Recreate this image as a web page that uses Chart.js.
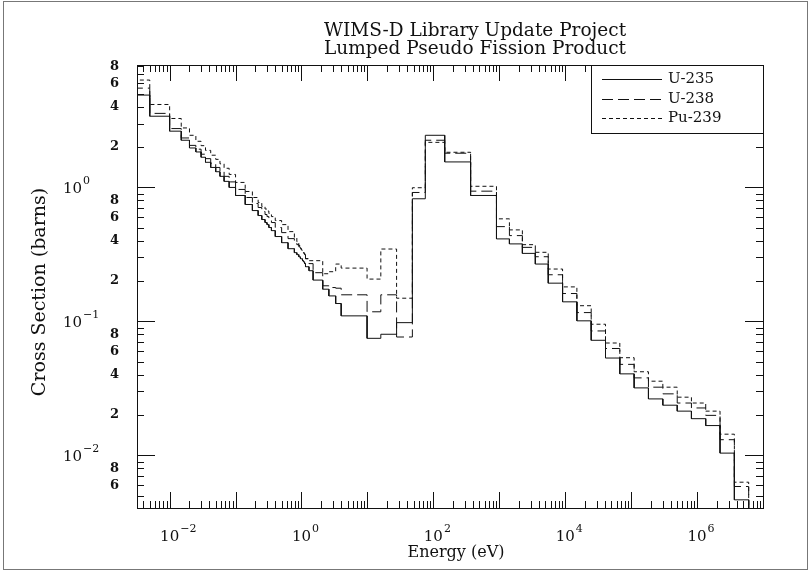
<!DOCTYPE html>
<html lang="en">
<head>
  <meta charset="UTF-8">
  <title>WIMS-D Lumped Pseudo Fission Product</title>
  <script src="https://cdn.jsdelivr.net/npm/chart.js"></script>
  <style>
    body { margin: 0; background: #fff; }
    #wrap { width: 811px; height: 572px; }
  </style>
</head>
<body>
  <div id="wrap"><canvas id="xs" width="811" height="572"></canvas></div>
  <script>
    // WIMS 69-group energy boundaries (eV), group 1 upper .. group 69 lower
    const energyBounds = [
      1.0e7, 6.0655e6, 3.679e6, 2.231e6, 1.353e6, 8.21e5, 5.0e5, 3.025e5, 1.83e5, 1.11e5,
      6.734e4, 4.085e4, 2.478e4, 1.503e4, 9118, 5530, 3519.1, 2239.45, 1425.1, 906.898,
      367.262, 148.728, 75.5014, 48.052, 27.7, 15.968, 9.877, 4.0, 3.3, 2.6,
      2.1, 1.5, 1.3, 1.15, 1.123, 1.097, 1.071, 1.045, 1.02, 0.996,
      0.972, 0.95, 0.91, 0.85, 0.78, 0.625, 0.5, 0.4, 0.35, 0.32,
      0.3, 0.28, 0.25, 0.22, 0.18, 0.14, 0.1, 0.08, 0.067, 0.058,
      0.05, 0.042, 0.035, 0.03, 0.025, 0.02, 0.015, 0.01, 0.005, 1e-5
    ];

    // cross sections (barns), groups 1..69
    const u235 = [
      0.0025, 0.00466, 0.0104, 0.0167, 0.0188, 0.0214, 0.0237, 0.0264, 0.0319, 0.0406,
      0.0533, 0.0723, 0.101, 0.140, 0.193, 0.268, 0.322, 0.379, 0.413, 0.871,
      1.55, 2.45, 0.823, 0.0979, 0.0802, 0.0748, 0.110, 0.136, 0.155, 0.174,
      0.2035, 0.239, 0.256, 0.270, 0.274, 0.279, 0.284, 0.289, 0.294, 0.294,
      0.299, 0.304, 0.315, 0.326, 0.349, 0.387, 0.430, 0.476, 0.502, 0.528,
      0.547, 0.576, 0.617, 0.672, 0.746, 0.871, 1.00, 1.11, 1.21, 1.31,
      1.41, 1.54, 1.68, 1.84, 1.97, 2.25, 2.63, 3.40, 4.89
    ];
    const u238 = [
      0.0025, 0.00586, 0.0131, 0.0199, 0.0226, 0.0246, 0.0288, 0.0323, 0.0379, 0.0478,
      0.0628, 0.0849, 0.1164, 0.1615, 0.223, 0.304, 0.357, 0.437, 0.510, 0.938,
      1.80, 2.25, 0.917, 0.0765, 0.158, 0.118, 0.158, 0.177, 0.179, 0.1845,
      0.231, 0.270, 0.294, 0.315, 0.320, 0.326, 0.332, 0.337, 0.343, 0.349,
      0.355, 0.361, 0.374, 0.387, 0.415, 0.460, 0.502, 0.547, 0.576, 0.606,
      0.628, 0.661, 0.708, 0.759, 0.841, 0.966, 1.10, 1.21, 1.32, 1.41,
      1.51, 1.64, 1.77, 1.93, 2.06, 2.34, 2.75, 3.57, 5.51
    ];
    const pu239 = [
      0.0025, 0.00631, 0.0144, 0.0214, 0.0246, 0.0272, 0.0323, 0.0358, 0.0421, 0.0536,
      0.0690, 0.0953, 0.131, 0.181, 0.246, 0.328, 0.374, 0.482, 0.583, 1.02,
      1.83, 2.17, 0.995, 0.149, 0.347, 0.207, 0.250, 0.268, 0.235, 0.227,
      0.284, 0.284, 0.294, 0.315, 0.320, 0.326, 0.332, 0.337, 0.343, 0.349,
      0.355, 0.368, 0.394, 0.422, 0.468, 0.528, 0.566, 0.606, 0.639, 0.667,
      0.690, 0.721, 0.772, 0.841, 0.933, 1.09, 1.25, 1.39, 1.50, 1.62,
      1.74, 1.89, 2.05, 2.21, 2.45, 2.78, 3.27, 4.16, 6.33
    ];

    const seriesNames = ['U-235', 'U-238', 'Pu-239'];
    const seriesDash = [[], [11, 5], [4, 3]];
    const xRange = [3.2e-3, 1.0e7];
    const yRange = [4.05e-3, 8.2];
    const xLabelExps = [-2, 0, 2, 4, 6];
    const yMinorLabels = [2, 4, 6, 8];
    const titleLines = ['WIMS-D Library Update Project', 'Lumped Pseudo Fission Product'];

    // histogram: each group drawn flat across its energy bin
    function stepPoints(vals) {
      const pts = [];
      for (let g = vals.length - 1; g >= 0; g--) {
        pts.push({ x: energyBounds[g + 1], y: vals[g] });
        pts.push({ x: energyBounds[g], y: vals[g] });
      }
      return pts;
    }

    const FONT = "'DejaVu Serif', serif";

    function drawPower(ctx, x, y, exp, align) {
      ctx.font = '15px ' + FONT;
      const w = ctx.measureText('10').width;
      const sup = exp < 0 ? '\u2212' + (-exp) : String(exp);
      let x0 = x;
      if (align === 'center') x0 = x - w / 2;
      ctx.textAlign = 'left';
      ctx.textBaseline = 'alphabetic';
      ctx.fillText('10', x0, y);
      ctx.font = '11px ' + FONT;
      ctx.fillText(sup, x0 + w + 1, y - 9);
    }

    const frame = {
      id: 'frame',
      afterDraw(chart) {
        const { ctx, chartArea: a, scales: { x, y } } = chart;
        const L = a.left, R = a.right, T = a.top, B = a.bottom;
        ctx.save();
        ctx.fillStyle = '#111';
        ctx.lineWidth = 1;

        // outer picture border
        ctx.strokeStyle = '#777';
        ctx.strokeRect(3.5, 1.5, 804, 568);
        ctx.strokeStyle = '#111';

        ctx.strokeRect(Math.round(L) + 0.5, Math.round(T) + 0.5, Math.round(R - L), Math.round(B - T));

        // log ticks, drawn inward on all four sides
        ctx.beginPath();
        for (let d = -3; d <= 7; d++) {
          for (let m = 1; m <= 9; m++) {
            const v = m * Math.pow(10, d);
            if (v < xRange[0] || v > xRange[1]) continue;
            const px = Math.round(x.getPixelForValue(v)) + 0.5;
            const len = m === 1 ? 16 : 7;
            ctx.moveTo(px, B); ctx.lineTo(px, B - len);
            ctx.moveTo(px, T); ctx.lineTo(px, T + len);
          }
        }
        for (let d = -3; d <= 1; d++) {
          for (let m = 1; m <= 9; m++) {
            const v = m * Math.pow(10, d);
            if (v < yRange[0] || v > yRange[1]) continue;
            const py = Math.round(y.getPixelForValue(v)) + 0.5;
            const len = m === 1 ? 18 : 7;
            ctx.moveTo(L, py); ctx.lineTo(L + len, py);
            ctx.moveTo(R, py); ctx.lineTo(R - len, py);
          }
        }
        ctx.stroke();

        // x tick labels
        xLabelExps.forEach(e => {
          drawPower(ctx, x.getPixelForValue(Math.pow(10, e)), 541, e, 'center');
        });
        // y tick labels
        for (let d = -2; d <= 0; d++) {
          const py = y.getPixelForValue(Math.pow(10, d));
          drawPower(ctx, 63, py + 6, d, 'left');
        }
        ctx.font = 'bold 13px ' + FONT;
        ctx.textAlign = 'right';
        ctx.textBaseline = 'middle';
        for (let d = -3; d <= 0; d++) {
          yMinorLabels.forEach(m => {
            const v = m * Math.pow(10, d);
            if (v < yRange[0] || v > yRange[1]) return;
            ctx.fillText(String(m), 119, y.getPixelForValue(v));
          });
        }

        // titles
        ctx.font = '18.5px ' + FONT;
        ctx.textAlign = 'center';
        ctx.textBaseline = 'middle';
        ctx.fillText(titleLines[0], 475, 31);
        ctx.fillText(titleLines[1], 475, 49);
        ctx.font = '16px ' + FONT;
        ctx.fillText('Energy (eV)', 456, 553);
        ctx.save();
        ctx.translate(40, 292);
        ctx.rotate(-Math.PI / 2);
        ctx.font = '19px ' + FONT;
        ctx.fillText('Cross Section (barns)', 0, 0);
        ctx.restore();

        // legend box
        const lx = 591;
        ctx.fillStyle = '#fff';
        ctx.fillRect(lx, T, R - lx, 68);
        ctx.fillStyle = '#111';
        ctx.strokeRect(lx + 0.5, Math.round(T) + 0.5, Math.round(R - lx), 68);
        const rows = [79, 99, 118];
        ctx.font = '15px ' + FONT;
        ctx.textAlign = 'left';
        seriesNames.forEach((name, i) => {
          ctx.beginPath();
          ctx.setLineDash(seriesDash[i]);
          ctx.moveTo(602, rows[i] + 0.5);
          ctx.lineTo(662, rows[i] + 0.5);
          ctx.stroke();
          ctx.setLineDash([]);
          ctx.fillText(name, 668, rows[i]);
        });
        ctx.restore();
      }
    };

    const datasets = [u235, u238, pu239].map((vals, i) => ({
      label: seriesNames[i],
      data: stepPoints(vals),
      showLine: true,
      borderColor: '#111',
      borderWidth: 1,
      borderDash: seriesDash[i],
      pointRadius: 0,
      fill: false,
      tension: 0
    }));

    new Chart(document.getElementById('xs').getContext('2d'), {
      type: 'scatter',
      data: { datasets },
      options: {
        responsive: false,
        devicePixelRatio: 1,
        animation: false,
        layout: { padding: { left: 137, right: 48, top: 65, bottom: 64 } },
        plugins: { legend: { display: false }, title: { display: false }, tooltip: { enabled: false } },
        scales: {
          x: { type: 'logarithmic', min: xRange[0], max: xRange[1], display: false },
          y: { type: 'logarithmic', min: yRange[0], max: yRange[1], display: false }
        }
      },
      plugins: [frame]
    });
  </script>
</body>
</html>
